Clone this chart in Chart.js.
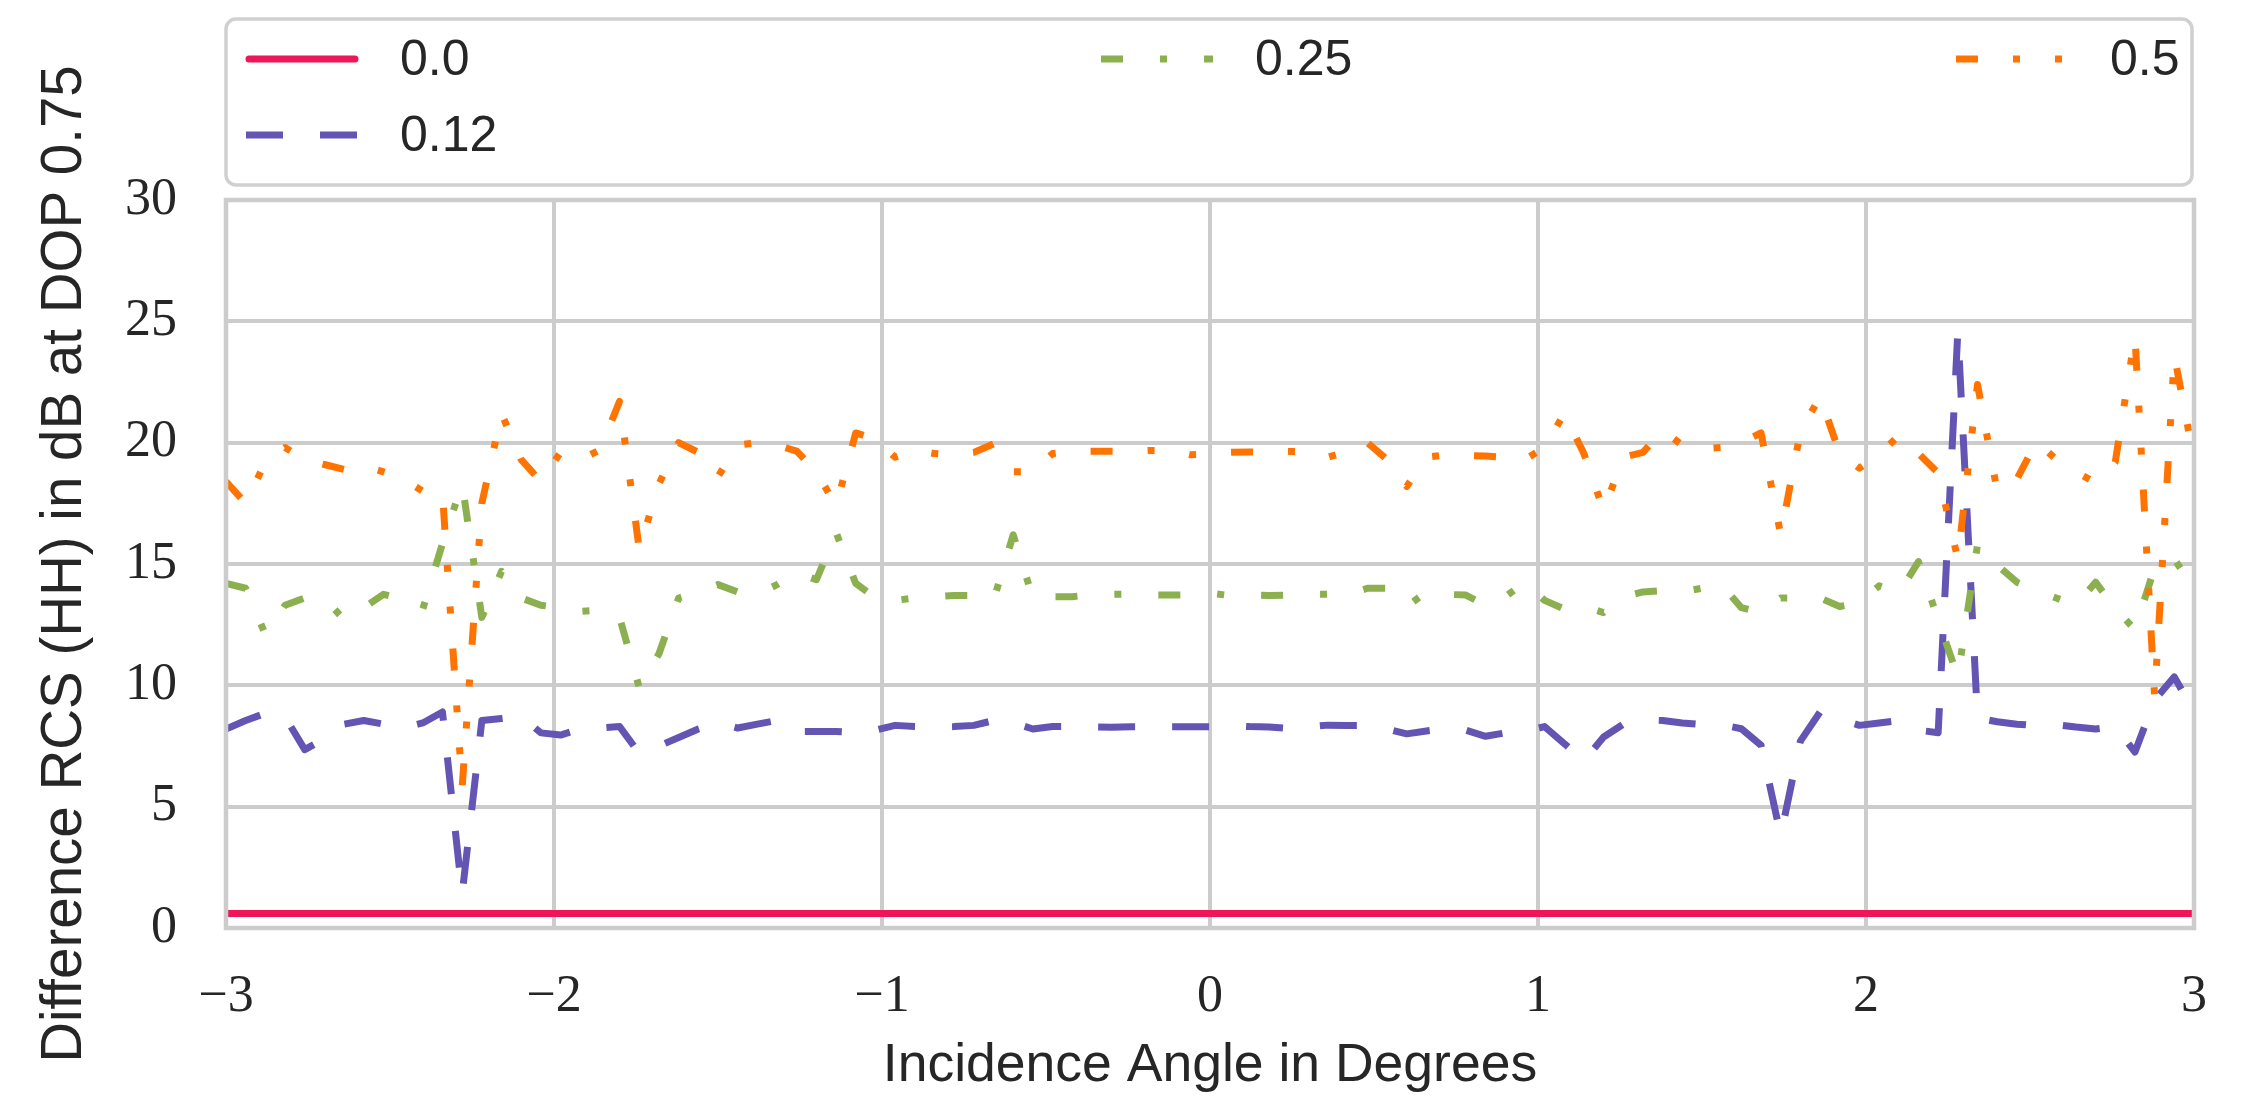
<!DOCTYPE html>
<html>
<head>
<meta charset="utf-8">
<script src="https://cdn.jsdelivr.net/npm/chart.js@4.4.1/dist/chart.umd.min.js"></script>
<style>
  html, body { margin: 0; padding: 0; background: #fff; }
  #wrap { width: 2245px; height: 1100px; }
</style>
</head>
<body>
<div id="wrap"><canvas id="rcsChart" width="2245" height="1100"></canvas></div>
<script>
// incidence angles (deg), one sample every 0.06
const angles = [
  -3, -2.94, -2.88, -2.82, -2.76, -2.7, -2.64, -2.58, -2.52, -2.46,
  -2.4, -2.34, -2.28, -2.22, -2.16, -2.1, -2.04, -1.98, -1.92, -1.86,
  -1.8, -1.74, -1.68, -1.62, -1.56, -1.5, -1.44, -1.38, -1.32, -1.26,
  -1.2, -1.14, -1.08, -1.02, -0.96, -0.9, -0.84, -0.78, -0.72, -0.66,
  -0.6, -0.54, -0.48, -0.42, -0.36, -0.3, -0.24, -0.18, -0.12, -0.06,
  0, 0.06, 0.12, 0.18, 0.24, 0.3, 0.36, 0.42, 0.48, 0.54,
  0.6, 0.66, 0.72, 0.78, 0.84, 0.9, 0.96, 1.02, 1.08, 1.14,
  1.2, 1.26, 1.32, 1.38, 1.44, 1.5, 1.56, 1.62, 1.68, 1.74,
  1.8, 1.86, 1.92, 1.98, 2.04, 2.1, 2.16, 2.22, 2.28, 2.34,
  2.4, 2.46, 2.52, 2.58, 2.64, 2.7, 2.76, 2.82, 2.88, 2.94, 3
];

// difference RCS (dB) per roughness value
const diff00 = [
  0.6, 0.6, 0.6, 0.6, 0.6, 0.6, 0.6, 0.6, 0.6, 0.6,
  0.6, 0.6, 0.6, 0.6, 0.6, 0.6, 0.6, 0.6, 0.6, 0.6,
  0.6, 0.6, 0.6, 0.6, 0.6, 0.6, 0.6, 0.6, 0.6, 0.6,
  0.6, 0.6, 0.6, 0.6, 0.6, 0.6, 0.6, 0.6, 0.6, 0.6,
  0.6, 0.6, 0.6, 0.6, 0.6, 0.6, 0.6, 0.6, 0.6, 0.6,
  0.6, 0.6, 0.6, 0.6, 0.6, 0.6, 0.6, 0.6, 0.6, 0.6,
  0.6, 0.6, 0.6, 0.6, 0.6, 0.6, 0.6, 0.6, 0.6, 0.6,
  0.6, 0.6, 0.6, 0.6, 0.6, 0.6, 0.6, 0.6, 0.6, 0.6,
  0.6, 0.6, 0.6, 0.6, 0.6, 0.6, 0.6, 0.6, 0.6, 0.6,
  0.6, 0.6, 0.6, 0.6, 0.6, 0.6, 0.6, 0.6, 0.6, 0.6, 0.6
];

const diff012 = [
  8.2, 8.55, 8.85, 8.7, 7.35, 7.8, 8.4, 8.55, 8.4, 8.25,
  8.45, 8.9, 1.4, 8.55, 8.63, 8.72, 8.04, 7.95, 8.2, 8.24,
  8.3, 7.2, 7.5, 7.85, 8.2, 8.46, 8.24, 8.4, 8.55, 8.1,
  8.1, 8.1, 8.05, 8.15, 8.35, 8.3, 8.28, 8.3, 8.35, 8.55,
  8.46, 8.2, 8.3, 8.3, 8.29, 8.27, 8.29, 8.29, 8.29, 8.29,
  8.29, 8.34, 8.3, 8.28, 8.22, 8.29, 8.36, 8.34, 8.34, 8.2,
  8.0, 8.12, 8.21, 8.15, 7.9, 8.04, 8.1, 8.3, 7.6, 6.9,
  7.87, 8.4, 8.58, 8.55, 8.45, 8.38, 8.38, 8.21, 7.53, 3.8,
  7.7, 8.9, 8.6, 8.35, 8.45, 8.55, 8.15, 8.05, 24.6, 8.65,
  8.5, 8.4, 8.34, 8.38, 8.28, 8.2, 8.29, 7.25, 9.4, 10.35, 8.9
];

const diff025 = [
  14.2, 14.0, 12.1, 13.3, 13.6, 13.6, 12.7, 13.2, 13.75, 13.55,
  13.15, 15.85, 18.3, 12.8, 14.7, 13.6, 13.3, 13.2, 13.05, 13.1,
  12.8, 9.9, 11.3, 13.6, 13.85, 14.15, 13.85, 13.75, 14.15, 14.65,
  14.35, 16.3, 14.2, 13.6, 13.5, 13.6, 13.65, 13.7, 13.7, 13.5,
  16.2, 13.6, 13.65, 13.65, 13.75, 13.75, 13.75, 13.72, 13.72, 13.72,
  13.8, 13.7, 13.72, 13.7, 13.72, 13.75, 13.75, 13.75, 14.0, 14.0,
  13.25, 13.85, 13.75, 13.72, 13.3, 13.65, 14.25, 13.5, 13.15, 13.25,
  13.0, 13.65, 13.85, 13.9, 13.85, 14.0, 14.15, 13.2, 13.0, 13.6,
  13.6, 13.6, 13.25, 13.4, 14.1, 13.8, 15.1, 12.7, 10.35, 15.8,
  14.95, 14.25, 13.9, 13.6, 13.3, 14.25, 13.15, 12.3, 14.85, 15.2, 14.0
];

const diff05 = [
  18.4, 17.5, 19.2, 19.8, 19.3, 19.1, 18.9, 19.05, 18.8, 18.5,
  18.0, 17.9, 5.8, 17.5, 21.2, 19.3, 18.4, 19.6, 19.3, 19.7,
  21.7, 15.6, 18.3, 20.0, 19.6, 18.6, 19.9, 20.0, 19.9, 19.65,
  18.8, 17.4, 20.4, 20.15, 19.4, 19.7, 19.55, 19.5, 19.6, 19.95,
  18.8, 18.8, 19.55, 19.65, 19.65, 19.65, 19.65, 19.68, 19.68, 19.5,
  19.55, 19.6, 19.62, 19.62, 19.64, 19.64, 19.4, 19.64, 20.0, 19.3,
  18.2, 19.4, 19.5, 19.47, 19.45, 19.4, 19.3, 19.8, 21.2, 19.55,
  17.2, 19.4, 19.6, 20.5, 19.9, 19.75, 19.8, 20.0, 20.4, 16.2,
  20.45, 21.9, 19.55, 18.95, 19.5, 20.3, 19.55, 18.75, 15.2, 22.4,
  18.0, 18.5, 20.05, 19.3, 18.8, 18.35, 19.2, 24.4, 9.5, 23.6, 19.3
];

const seriesLabels = ['0.0', '0.12', '0.25', '0.5'];
const xTicks = [-3, -2, -1, 0, 1, 2, 3];
const yTicks = [0, 5, 10, 15, 20, 25, 30];

//..styles, matplotlib-like
const lineStyles = [
  { color: '#EE1559', dash: [], cap: 'round' },
  { color: '#6454B4', dash: [37, 37], cap: 'butt' },
  { color: '#8CAF50', dash: [22, 37, 7, 37], cap: 'butt' },
  { color: '#FF7300', dash: [22, 35, 7, 35, 7, 35], cap: 'butt' },
];
const textColor = '#262626';
const gridColor = '#cccccc';
const sansFont = "'Liberation Sans', Arial, sans-serif";
const serifFont = "'Liberation Serif', 'Times New Roman', serif";

const allSeries = [diff00, diff012, diff025, diff05];

const datasets = allSeries.map((vals, i) => ({
    label: seriesLabels[i],
    data: angles.map((a, k) => ({ x: a, y: vals[k] })),
    borderColor: lineStyles[i].color,
    backgroundColor: lineStyles[i].color,
    borderWidth: 7,
    borderDash: lineStyles[i].dash,
    borderCapStyle: 'butt',
    borderJoinStyle: 'round',
    pointRadius: 0,
    tension: 0,
    fill: false,
    order: allSeries.length - 1 - i   // later series on top
}));

//..frame round the plot area
const framePlugin = {
    id: 'frame',
    afterDatasetsDraw(chart) {
        const { ctx, chartArea: a } = chart;
        ctx.save();
        ctx.strokeStyle = gridColor;
        ctx.lineWidth = 4.5;
        ctx.setLineDash([]);
        ctx.strokeRect(a.left, a.top, a.right - a.left, a.bottom - a.top);
        ctx.restore();
    }
};

//..legend box, 3 columns filled column-wise
const legendSlots = [
    { col: 0, row: 0 }, { col: 0, row: 1 }, { col: 1, row: 0 }, { col: 2, row: 0 }
];
const legendPlugin = {
    id: 'boxLegend',
    afterDraw(chart) {
        const { ctx, chartArea: a } = chart;
        const boxTop = 19, boxBottom = 185;
        const colX = [246, 1101, 1956];
        const rowY = [59, 135];
        ctx.save();
        ctx.beginPath();
        ctx.roundRect(a.left, boxTop, a.right - a.left - 2, boxBottom - boxTop, 10);
        ctx.fillStyle = 'rgba(255,255,255,0.8)';
        ctx.fill();
        ctx.lineWidth = 3.5;
        ctx.strokeStyle = '#d0d0d0';
        ctx.stroke();

        chart.data.datasets.forEach((ds, i) => {
            const slot = legendSlots[i];
            const x0 = colX[slot.col];
            const y = rowY[slot.row];
            ctx.beginPath();
            ctx.setLineDash(ds.borderDash);
            ctx.lineCap = lineStyles[i].cap;
            ctx.lineWidth = ds.borderWidth;
            ctx.strokeStyle = ds.borderColor;
            const inset = lineStyles[i].cap === 'round' ? 3 : 0;
            ctx.moveTo(x0 + inset, y);
            ctx.lineTo(x0 + 112 - inset, y);
            ctx.stroke();

            ctx.setLineDash([]);
            ctx.fillStyle = textColor;
            ctx.font = `50px ${sansFont}`;
            ctx.textAlign = 'left';
            ctx.textBaseline = 'middle';
            ctx.fillText(ds.label, x0 + 154, y + 2);
        });
        ctx.restore();
    }
};

const fmtTick = v => (v < 0 ? '\u2212' + Math.abs(v) : String(v));

new Chart(document.getElementById('rcsChart'), {
    type: 'line',
    data: { datasets: datasets },
    options: {
        responsive: false,
        animation: false,
        devicePixelRatio: 1,
        layout: { padding: { top: 200, right: 46, left: 0, bottom: 0 } },
        plugins: {
            legend: { display: false },
            tooltip: { enabled: false }
        },
        scales: {
            x: {
                type: 'linear',
                min: xTicks[0],
                max: xTicks[xTicks.length - 1],
                afterBuildTicks(scale) { scale.ticks = xTicks.map(v => ({ value: v })); },
                afterFit(scale) { scale.height = 172; },
                grid: { color: gridColor, lineWidth: 4, drawTicks: false },
                border: { display: false },
                ticks: {
                    color: textColor,
                    padding: 38,
                    maxRotation: 0,
                    font: { family: serifFont, size: 52 },
                    callback: fmtTick
                },
                title: {
                    display: true,
                    text: 'Incidence Angle in Degrees',
                    color: textColor,
                    font: { family: sansFont, size: 53.5 },
                    padding: { top: 0, bottom: 2 }
                }
            },
            y: {
                type: 'linear',
                min: yTicks[0],
                max: yTicks[yTicks.length - 1],
                afterBuildTicks(scale) { scale.ticks = yTicks.map(v => ({ value: v })); },
                afterFit(scale) { scale.width = 226; },
                grid: { color: gridColor, lineWidth: 4, drawTicks: false },
                border: { display: false },
                ticks: {
                    color: textColor,
                    padding: 49,
                    font: { family: serifFont, size: 52 },
                    callback: fmtTick
                },
                title: {
                    display: true,
                    text: 'Difference RCS (HH) in dB at DOP 0.75',
                    color: textColor,
                    font: { family: sansFont, size: 56.5 },
                    padding: { top: 32, bottom: 0 }
                }
            }
        }
    },
    plugins: [framePlugin, legendPlugin]
});
</script>
</body>
</html>
